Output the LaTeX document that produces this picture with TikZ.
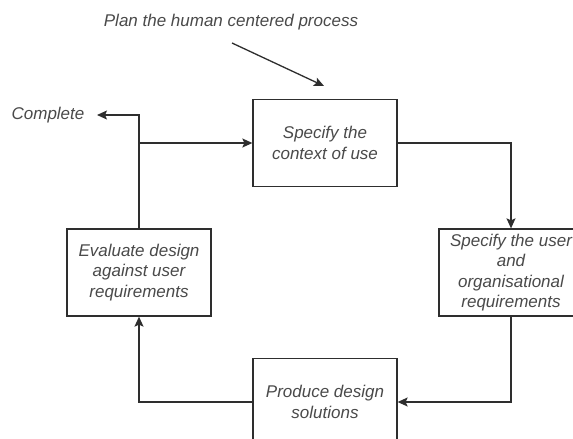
\documentclass[tikz,border=0pt]{standalone}
\usepackage{fontspec}
\setmainfont{Liberation Sans}
\usetikzlibrary{arrows.meta}
\definecolor{linec}{HTML}{2E2E2E}
\definecolor{textc}{HTML}{4A4A4A}
\tikzset{
  procbox/.style={draw=linec, line width=1.3pt, fill=white, minimum width=144pt, minimum height=87pt, inner sep=2pt, align=center, text=textc, font=\itshape\fontsize{17}{20.4}\selectfont},
  plain/.style={text=textc, font=\itshape\fontsize{17}{20.4}\selectfont, inner sep=0pt},
  conn/.style={draw=linec, line width=1.3pt, -{Stealth[length=10pt,width=9pt,inset=2pt]}}
}
\begin{document}
\begin{tikzpicture}[x=1pt,y=-1pt]
\fill[white] (0,0) rectangle (573,439);
\useasboundingbox (0,0) rectangle (573,439);
\begin{scope}
\clip (0,0) rectangle (573,439);
\node[plain] (plan) at (231,22) {Plan the human centered process};
\node[plain, outer xsep=0pt] (complete) at (48,115) {Complete};
\node[procbox] (ctx) at (325,143) {Specify the\\context of use};
\node[procbox] (req) at (511,272.5) {Specify the user\\and\\organisational\\requirements};
\node[procbox] (prod) at (325,402) {Produce design\\solutions};
\node[procbox] (eval) at (139,272.5) {Evaluate design\\against user\\requirements};
\coordinate (pa) at (232,43);
\coordinate (pb) at (324,86);
\coordinate (j) at (139,143);
\coordinate (ct) at (97,115);
\draw[conn] (pa) -- (pb);
\draw[conn] (ctx.east) -| (req.north);
\draw[conn] (req.south) |- (prod.east);
\draw[conn] (prod.west) -| (eval.south);
\draw[conn] (eval.north) |- (ctx.west);
\draw[conn] (j) |- (ct);
\end{scope}
\end{tikzpicture}
\end{document}
